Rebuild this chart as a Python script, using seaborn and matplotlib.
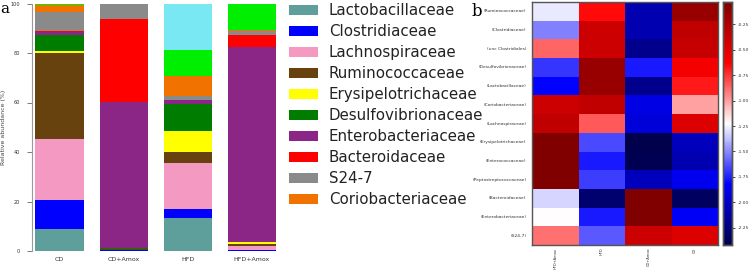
import numpy as np
import pandas as pd
import matplotlib
matplotlib.use("Agg")
import matplotlib.pyplot as plt
import matplotlib.patches as mpatches
import seaborn as sns

# ---------------- data: panel a (stacked relative abundance, %) ----------------
groups = ["CD", "CD+Amox", "HFD", "HFD+Amox"]
families = ["Lactobacillaceae", "Clostridiaceae", "Lachnospiraceae", "Ruminococcaceae",
            "Erysipelotrichaceae", "Desulfovibrionaceae", "Enterobacteriaceae",
            "Bacteroidaceae", "S24-7", "Coriobacteriaceae", "Other1", "Other2"]
lactobacillaceae    = [8.7, 0.1, 13.5, 0.2]
clostridiaceae      = [11.8, 0.3, 3.3, 0.3]
lachnospiraceae     = [24.9, 0.2, 18.9, 1.6]
ruminococcaceae     = [34.8, 0.1, 4.3, 0.7]
erysipelotrichaceae = [0.6, 0.2, 8.3, 0.9]
desulfovibrionaceae = [6.3, 0.5, 11.1, 0.0]
enterobacteriaceae  = [1.3, 59.0, 1.5, 78.8]
bacteroidaceae      = [0.3, 33.3, 0.3, 4.8]
s24_7               = [8.0, 6.3, 1.4, 1.4]
coriobacteriaceae   = [2.8, 0.0, 8.3, 0.6]
other1_green        = [0.3, 0.0, 10.4, 10.8]
other2_cyan         = [0.0, 0.0, 18.4, 0.0]
series = [lactobacillaceae, clostridiaceae, lachnospiraceae, ruminococcaceae,
          erysipelotrichaceae, desulfovibrionaceae, enterobacteriaceae,
          bacteroidaceae, s24_7, coriobacteriaceae, other1_green, other2_cyan]
colors = ["#5f9f9b", "#0000ff", "#f49ac2", "#68420e", "#ffff00", "#007d00",
          "#8b2686", "#ff0000", "#8a8a8a", "#f27200", "#00ee00", "#7ae8f2"]
legend_n = 10

# ---------------- data: panel b (heatmap) ----------------
hm_rows = ["(Ruminococcaceae)", "(Clostridiaceae)", "(unc Clostridiales)",
           "(Desulfovibrionaceae)", "(Lactobacillaceae)", "(Coriobacteriaceae)",
           "(Lachnospiraceae)", "(Erysipelotrichaceae)", "(Enterococcaceae)",
           "(Peptostreptococcaceae)", "(Bacteroidaceae)", "(Enterobacteriaceae)", "(S24-7)"]
hm_cols = ["HFD+Amox", "HFD", "CD+Amox", "CD"]
col_hfd_amox = [-1.28, -1.52, -0.87, -1.70, -1.82, -0.39, -0.33, -0.03, -0.03, -0.03, -1.32, -1.22, -0.89]
col_hfd      = [-0.65, -0.39, -0.39, -0.15, -0.15, -0.33, -0.84, -1.65, -1.76, -1.68, -2.30, -1.76, -1.61]
col_cd_amox  = [-2.08, -2.08, -2.20, -1.76, -2.20, -1.91, -1.95, -2.42, -2.40, -2.04, -0.03, -0.03, -0.39]
col_cd       = [-0.15, -0.33, -0.36, -0.58, -0.69, -1.01, -0.46, -2.04, -2.08, -1.87, -2.35, -1.85, -0.46]
cbar_ticks = [-0.25, -0.50, -0.75, -1.00, -1.25, -1.50, -1.75, -2.00, -2.25]

# ---------------- figure ----------------
W, H = 748, 273
fig = plt.figure(figsize=(W / 100, H / 100), dpi=100)

def ax_px(x0, y0, x1, y1):
    return fig.add_axes([x0 / W, 1 - y1 / H, (x1 - x0) / W, (y1 - y0) / H])

# panel a
ax = ax_px(31.7, 3.5, 280, 251)
rows = []
for fam, vals in zip(families, series):
    for g, v in zip(groups, vals):
        rows.append({"group": g, "family": fam, "value": v})
df = pd.DataFrame(rows)
pal = dict(zip(families, colors))
sns.histplot(data=df, x="group", weights="value", hue="family",
             hue_order=families[::-1], multiple="stack", discrete=True,
             shrink=0.75, palette=pal, alpha=1, linewidth=0, legend=False, ax=ax)
ax.set_ylim(0, 100)
ax.set_xlim(-0.434, 3.44)
ax.set_xlabel("")
ax.set_ylabel("Relative abundance (%)", fontsize=4.5, color="#444444")
ax.yaxis.set_label_coords(-26.0 / 248.3, 0.5)
ax.set_yticks([0, 20, 40, 60, 80, 100])
ax.set_yticklabels(["0", "20", "40", "60", "80", "100"], fontsize=3.6)
ax.tick_params(axis="y", length=3.5, width=0.6, color="#666666", pad=5, labelcolor="#333333")
ax.tick_params(axis="x", length=0, labelsize=4.5, pad=4, labelcolor="#333333")
for s in ["top", "right", "bottom"]:
    ax.spines[s].set_visible(False)
ax.spines["left"].set_color("#999999")
ax.spines["left"].set_linewidth(0.8)
ax.set_facecolor("white")
fig.text(0.5 / W, 1 - 9 / H, "a", fontsize=11, family="DejaVu Serif", va="center", ha="left")

# legend
handles = [mpatches.Patch(facecolor=c, edgecolor="none", label=f)
           for f, c in zip(families[:legend_n], colors[:legend_n])]
leg = fig.legend(handles=handles, loc="upper left",
                 bbox_to_anchor=(289 / W, 1 - 3 / H), frameon=False,
                 fontsize=10.8, handlelength=1.9, handleheight=0.65,
                 handletextpad=0.75, labelspacing=0.40, borderpad=0, borderaxespad=0)
for t in leg.get_texts():
    t.set_color("#222222")

# panel b heatmap
hm = pd.DataFrame({"HFD+Amox": col_hfd_amox, "HFD": col_hfd,
                   "CD+Amox": col_cd_amox, "CD": col_cd}, index=hm_rows)[hm_cols]
axh = ax_px(532, 2, 718, 245)
cax = ax_px(723, 2, 732, 245)
sns.heatmap(hm, cmap="seismic", vmin=-2.42, vmax=-0.03, ax=axh, cbar_ax=cax,
            cbar_kws={"ticks": cbar_ticks})
axh.set_yticklabels(hm_rows, fontsize=3.2, rotation=0)
axh.set_xticklabels(hm_cols, fontsize=2.6, rotation=90)
axh.tick_params(axis="y", length=0, pad=4, labelcolor="#333333")
axh.tick_params(axis="x", length=0, pad=2, labelcolor="#333333")
for s in axh.spines.values():
    s.set_visible(True)
    s.set_color("#555555")
    s.set_linewidth(1.0)
cax.set_yticklabels(["%.2f" % t for t in cbar_ticks], fontsize=3.2)
cax.tick_params(length=2, width=0.5, pad=2, labelcolor="#333333")
for s in cax.spines.values():
    s.set_visible(True)
    s.set_color("#555555")
    s.set_linewidth(1.0)
fig.text(477 / W, 1 - 11 / H, "b", fontsize=12, family="DejaVu Serif", va="center", ha="center")

fig.savefig("out.png", dpi=100, facecolor="white")
